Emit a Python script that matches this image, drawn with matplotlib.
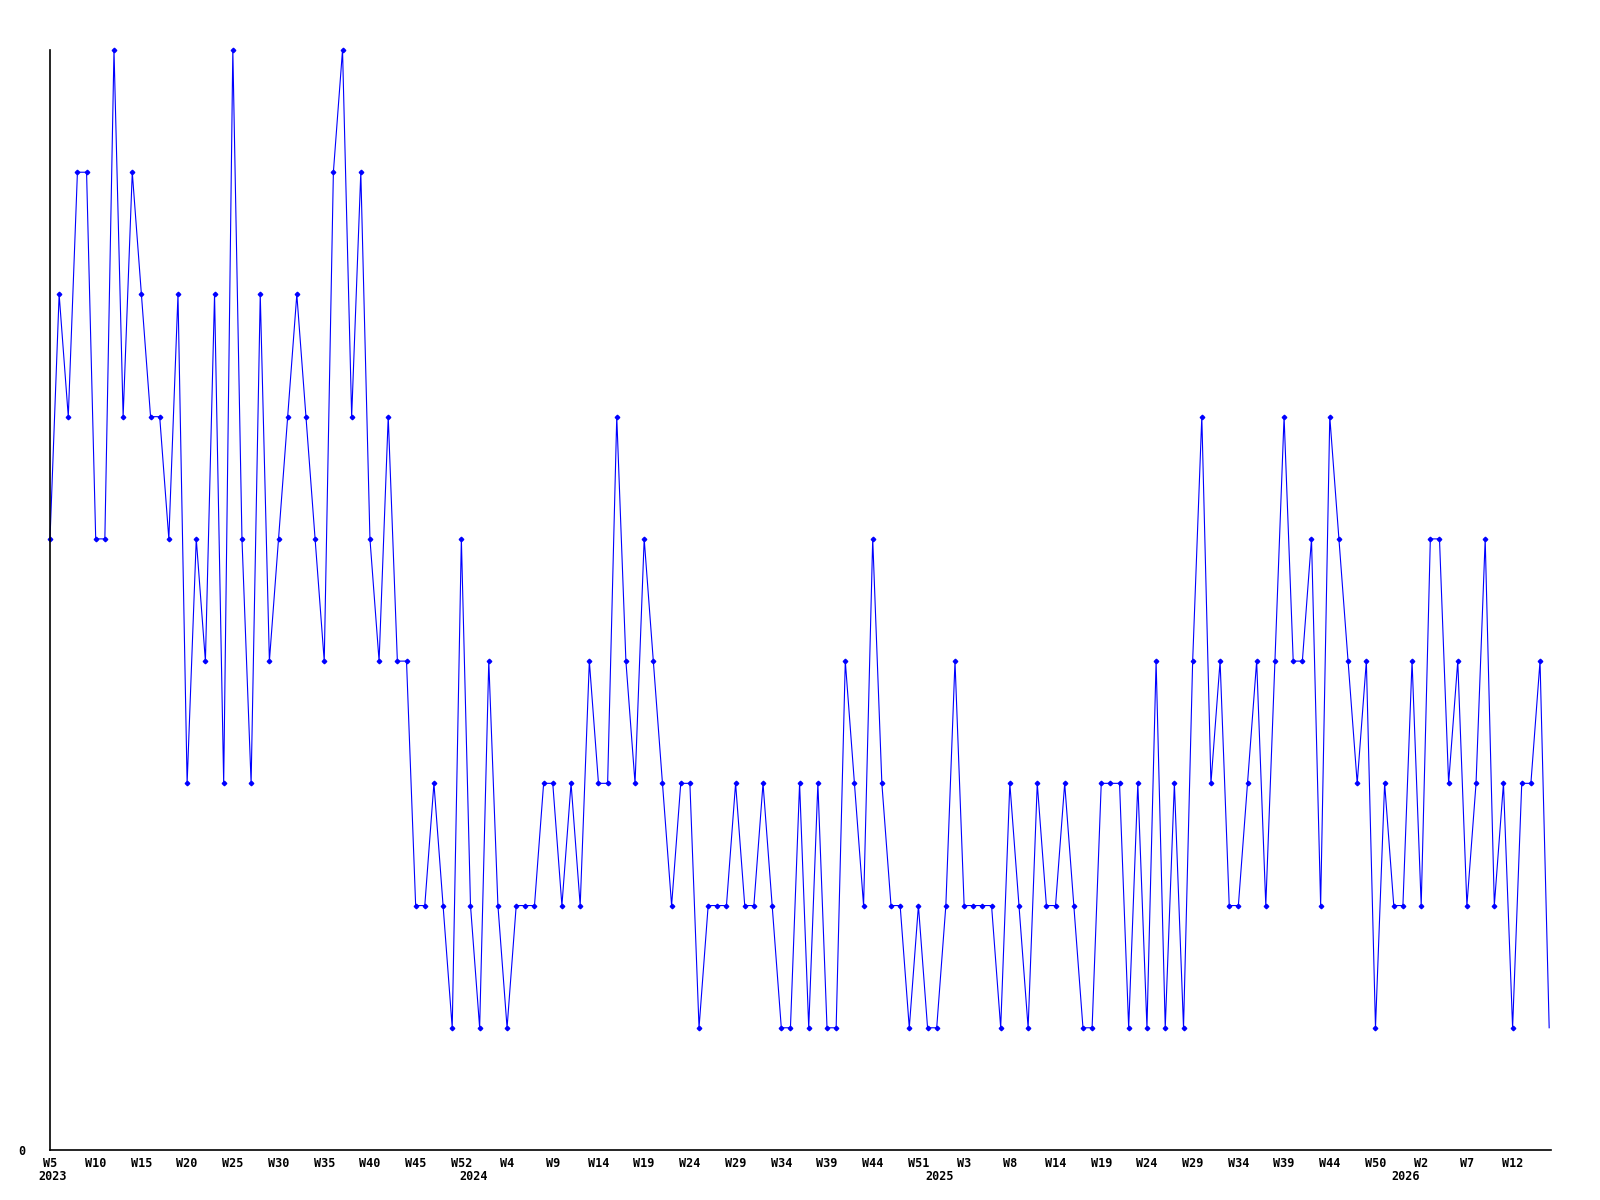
import numpy as np
import matplotlib
matplotlib.use('Agg')
import matplotlib.pyplot as plt

# weekly counts (index 0 = W5 2023)
valores = [5, 7, 6, 8, 8, 5, 5, 9, 6, 8, 7, 6, 6, 5, 7, 3, 5, 4, 7, 3,
           9, 5, 3, 7, 4, 5, 6, 7, 6, 5, 4, 8, 9, 6, 8, 5, 4, 6, 4, 4,
           2, 2, 3, 2, 1, 5, 2, 1, 4, 2, 1, 2, 2, 2, 3, 3, 2, 3, 2, 4,
           3, 3, 6, 4, 3, 5, 4, 3, 2, 3, 3, 1, 2, 2, 2, 3, 2, 2, 3, 2,
           1, 1, 3, 1, 3, 1, 1, 4, 3, 2, 5, 3, 2, 2, 1, 2, 1, 1, 2, 4,
           2, 2, 2, 2, 1, 3, 2, 1, 3, 2, 2, 3, 2, 1, 1, 3, 3, 3, 1, 3,
           1, 4, 1, 3, 1, 4, 6, 3, 4, 2, 2, 3, 4, 2, 4, 6, 4, 4, 5, 2,
           6, 5, 4, 3, 4, 1, 3, 2, 2, 4, 2, 5, 5, 3, 4, 2, 3, 5, 2, 3,
           1, 3, 3, 4, 1]

# one label every 5 points
rotulos_semana = ['W5', 'W10', 'W15', 'W20', 'W25', 'W30', 'W35', 'W40', 'W45', 'W52',
                  'W4', 'W9', 'W14', 'W19', 'W24', 'W29', 'W34', 'W39', 'W44', 'W51',
                  'W3', 'W8', 'W14', 'W19', 'W24', 'W29', 'W34', 'W39', 'W44', 'W50',
                  'W2', 'W7', 'W12']
passo_rotulo = 5

anos = ['2023', '2024', '2025', '2026']
inicio_ano = [0, 46, 97, 148]   # index of first week of each year

x = np.arange(len(valores))

fig = plt.figure(figsize=(16, 12), dpi=100)
ax = fig.add_axes([50 / 1600, 1 - 1150 / 1200, 1501 / 1600, 1100 / 1200])

ax.plot(x, valores, color='#0000ff', linewidth=0.8, marker='D', markersize=2.3,
        markevery=list(range(len(valores) - 1)), clip_on=False)

ax.set_xlim(0, len(valores) - 1 + 0.2)
ax.set_ylim(0, 9)

for lado in ['top', 'right']:
    ax.spines[lado].set_visible(False)
for lado in ['left', 'bottom']:
    ax.spines[lado].set_color('black')
    ax.spines[lado].set_linewidth(1.2)

fonte = dict(family='DejaVu Sans Mono', weight='bold', size=8.5)

ax.set_yticks([0])
ax.set_yticklabels(['0'], **fonte)
ax.tick_params(axis='y', length=0, pad=18)

ax.set_xticks(np.arange(len(rotulos_semana)) * passo_rotulo)
ax.set_xticklabels(rotulos_semana, **fonte)
ax.tick_params(axis='x', length=0, pad=5)

for ano, pos in zip(anos, inicio_ano):
    ax.text(pos + 0.3, -0.0245, ano, transform=ax.get_xaxis_transform(),
            ha='center', va='center', **fonte)

fig.savefig('out.png', dpi=100, facecolor='white')
